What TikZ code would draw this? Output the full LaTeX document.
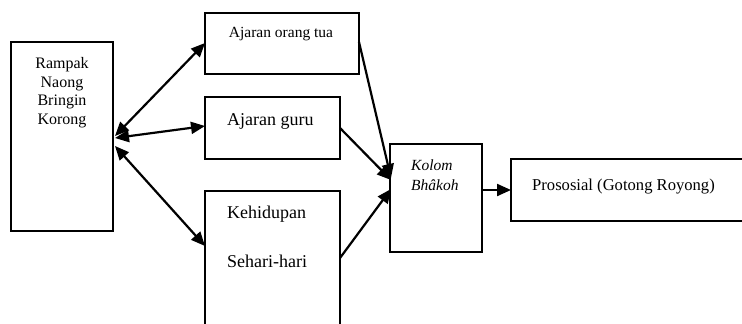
\documentclass[tikz,border=0pt]{standalone}
\usepackage{fontspec}
\setmainfont{Liberation Serif}
\usetikzlibrary{arrows.meta}
\begin{document}
\begin{tikzpicture}[x=1pt,y=-1pt,
  box/.style={draw,line width=1.8pt,inner sep=0pt},
  lbl/.style={inner sep=0pt},
  conn/.style={line width=2.2pt,-{Triangle[length=14pt,width=12pt]}},
  bconn/.style={line width=2.2pt,{Triangle[length=14pt,width=12pt]}-{Triangle[length=14pt,width=12pt]}}]
\useasboundingbox (0,0) rectangle (742,324);
\clip (0,0) rectangle (742,324);
\fill[white] (0,0) rectangle (742,324);
% boxes
\node[box,minimum width=102pt,minimum height=189pt] (rampak) at (62,136.5) {};
\node[box,minimum width=154pt,minimum height=61pt] (ortu) at (282,43.5) {};
\node[box,minimum width=135pt,minimum height=62pt] (guru) at (272.5,128) {};
\node[box,minimum width=135pt,minimum height=154pt] (hidup) at (272.5,268) {};
\node[box,minimum width=92pt,minimum height=108pt] (kolom) at (436,198) {};
\node[box,minimum width=259pt,minimum height=62pt] (pros) at (640.5,190) {};
% labels
\node[lbl,anchor=north,align=center,font=\fontsize{16}{18.5}\selectfont] (tRampak) at (62,57.5) {Rampak\\Naong\\Bringin\\Korong};
\node[lbl,anchor=base,font=\fontsize{15.5}{18}\selectfont] (tOrtu) at (281,37) {Ajaran orang tua};
\node[lbl,anchor=base west,font=\fontsize{18}{21}\selectfont] (tGuru) at (227,125) {Ajaran guru};
\node[lbl,anchor=base west,font=\fontsize{18}{21}\selectfont] (tHidup1) at (227,218) {Kehidupan};
\node[lbl,anchor=base west,font=\fontsize{18}{21}\selectfont] (tHidup2) at (227,267) {Sehari-hari};
\node[lbl,anchor=base west,font=\fontsize{15.5}{18}\selectfont\itshape] (tKolom1) at (411,170) {Kolom};
\node[lbl,anchor=base west,font=\fontsize{15.5}{18}\selectfont\itshape] (tKolom2) at (411,190) {Bhâkoh};
\node[lbl,anchor=base west,font=\fontsize{16.6}{19}\selectfont] (tPros) at (532,190) {Prososial (Gotong Royong)};
% connector end points
\coordinate (rA) at (115,136);
\coordinate (rB) at (115,138);
\coordinate (rC) at (115,146);
\coordinate (oL) at (205,43);
\coordinate (gL) at (205,126);
\coordinate (hL) at (205,246);
\coordinate (oR) at (359,42);
\coordinate (gR) at (340,128);
\coordinate (hR) at (340,258);
\coordinate (kA) at (391,178);
\coordinate (kB) at (391,180);
\coordinate (kC) at (391,189);
\coordinate (kR) at (482,190);
\coordinate (pL) at (511,190);
% connectors
\draw[bconn] (rA) -- (oL);
\draw[bconn] (rB) -- (gL);
\draw[bconn] (rC) -- (hL);
\draw[conn] (oR) -- (kA);
\draw[conn] (gR) -- (kB);
\draw[conn] (hR) -- (kC);
\draw[conn] (kR) -- (pL);
\end{tikzpicture}
\end{document}
